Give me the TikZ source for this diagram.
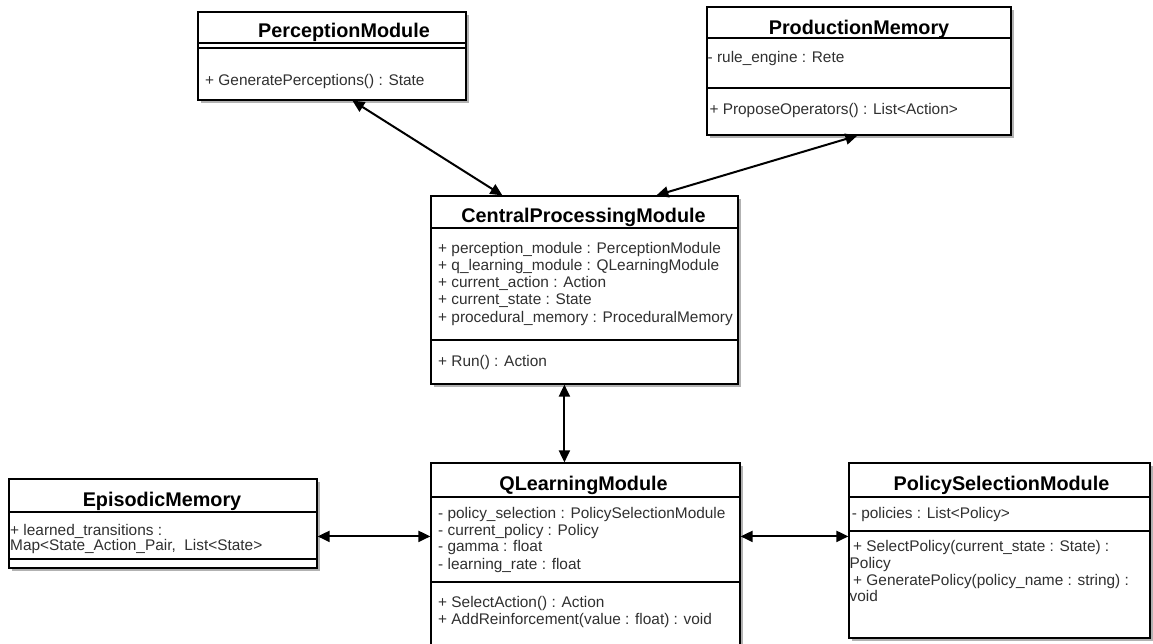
\documentclass[tikz,border=0pt]{standalone}
\usepackage{fontspec}
\setmainfont{Liberation Sans}
\usetikzlibrary{arrows.meta,shadows,calc}
\definecolor{txt}{HTML}{303030}
\begin{document}
\begin{tikzpicture}[x=1pt,y=-1pt,
  cls/.style={draw=black, line width=1.2pt, fill=white, inner sep=0pt,
    drop shadow={shadow xshift=3pt, shadow yshift=-3pt, fill=black!30, opacity=1}},
  ttl/.style={anchor=base, inner sep=0pt, font=\fontsize{19.8}{22}\selectfont\bfseries, text=black},
  bdy/.style={anchor=base west, inner sep=0pt, font=\fontsize{15.4}{17}\selectfont, text=txt},
  sep/.style={draw=black, line width=1.2pt},
  arr/.style={line width=2pt, {Triangle[length=12pt,width=11pt]}-{Triangle[length=12pt,width=11pt]}}]
\useasboundingbox (0,0) rectangle (1153,644);

% ---------- PerceptionModule
\node[cls, minimum width=268pt, minimum height=88pt] (perc) at (332,56) {};
\draw[sep] (198,43) -- (466,43);
\draw[sep] (198,48) -- (466,48);
\node[ttl] (percT) at (344,38) {PerceptionModule};
\node[bdy] (percM1) at (205,86) {+ GeneratePerceptions() : State};

% ---------- ProductionMemory
\node[cls, minimum width=304pt, minimum height=128pt] (prod) at (859,71) {};
\draw[sep] (707,38) -- (1011,38);
\draw[sep] (707,88) -- (1011,88);
\node[ttl] (prodT) at (859,35) {ProductionMemory};
\node[bdy] (prodA1) at (707.5,63) {- rule\_engine : Rete};
\node[bdy] (prodM1) at (709.3,115) {+ ProposeOperators() : List<Action>};

% ---------- CentralProcessingModule
\node[cls, minimum width=307pt, minimum height=188pt] (cpm) at (584.5,290) {};
\draw[sep] (431,228) -- (738,228);
\draw[sep] (431,340) -- (738,340);
\node[ttl] (cpmT) at (583.5,223) {CentralProcessingModule};
\node[bdy] (cpmA1) at (438,253.3) {+ perception\_module : PerceptionModule};
\node[bdy] (cpmA2) at (438,270.5) {+ q\_learning\_module : QLearningModule};
\node[bdy] (cpmA3) at (438,287.7) {+ current\_action : Action};
\node[bdy] (cpmA4) at (438,304.9) {+ current\_state : State};
\node[bdy] (cpmA5) at (438,322.1) {+ procedural\_memory : ProceduralMemory};
\node[bdy] (cpmM1) at (438,366.7) {+ Run() : Action};

% ---------- EpisodicMemory
\node[cls, minimum width=308pt, minimum height=89pt] (epi) at (163,523.5) {};
\draw[sep] (9,512) -- (317,512);
\draw[sep] (9,559) -- (317,559);
\node[ttl] (epiT) at (162,506.7) {EpisodicMemory};
\node[bdy] (epiA1) at (10,535) {+ learned\_transitions :};
\node[bdy] (epiA2) at (10,550) {Map<State\_Action\_Pair,\ \ List<State>};

% ---------- QLearningModule
\node[cls, minimum width=309pt, minimum height=187pt] (q) at (585.5,556.5) {};
\draw[sep] (431,497) -- (740,497);
\draw[sep] (431,582) -- (740,582);
\node[ttl] (qT) at (583.5,490) {QLearningModule};
\node[bdy] (qA1) at (438,518.3) {- policy\_selection : PolicySelectionModule};
\node[bdy] (qA2) at (438,535) {- current\_policy : Policy};
\node[bdy] (qA3) at (438,551.7) {- gamma : float};
\node[bdy] (qA4) at (438,569) {- learning\_rate : float};
\node[bdy] (qM1) at (438,607) {+ SelectAction() : Action};
\node[bdy] (qM2) at (438,624) {+ AddReinforcement(value : float) : void};

% ---------- PolicySelectionModule
\node[cls, minimum width=301pt, minimum height=175pt] (pol) at (999.5,550.5) {};
\draw[sep] (849,497) -- (1150,497);
\draw[sep] (849,531) -- (1150,531);
\node[ttl] (polT) at (1001.5,490) {PolicySelectionModule};
\node[bdy] (polA1) at (851.7,518) {- policies : List<Policy>};
\node[bdy] (polM1) at (853,551.7) {+ SelectPolicy(current\_state : State) :};
\node[bdy] (polM1b) at (849.5,568.4) {Policy};
\node[bdy] (polM2) at (853,585) {+ GeneratePolicy(policy\_name : string) :};
\node[bdy] (polM2b) at (849.5,601.7) {void};

% ---------- connectors
\draw[arr] ($(perc.south west)+(155,0)$) -- ($(cpm.north west)+(72,0)$);
\draw[arr] ($(prod.south west)+(151,0)$) -- ($(cpm.north west)+(226,0)$);
\draw[arr] ($(cpm.south west)+(134,0)$) -- ($(q.north west)+(134,0)$);
\draw[arr] ($(epi.north east)+(0,58)$) -- ($(q.north west)+(0,74)$);
\draw[arr] ($(q.north east)+(0,74)$) -- ($(pol.north west)+(0,74)$);
\end{tikzpicture}
\end{document}
